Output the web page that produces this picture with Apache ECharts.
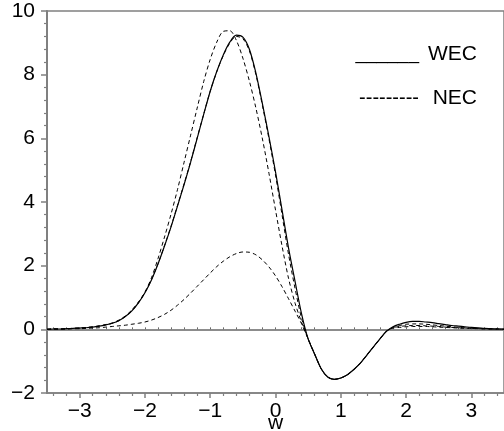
<!DOCTYPE html>
<html>
<head>
<meta charset="utf-8">
<script src="https://cdn.jsdelivr.net/npm/echarts@6/dist/echarts.min.js"></script>
<style>html,body{margin:0;padding:0;background:#fff;}#c{width:504px;height:431px;}</style>
</head>
<body>
<div id="c"></div>
<script>
const xs = [-3.5,-3.4,-3.3,-3.2,-3.1,-3.0,-2.9,-2.8,-2.7,-2.6,-2.5,-2.4,-2.3,-2.2,-2.1,-2.0,-1.9,-1.8,-1.7,-1.6,-1.5,-1.4,-1.3,-1.2,-1.1,-1.0,-0.9,-0.8,-0.7,-0.6,-0.5,-0.4,-0.3,-0.2,-0.1,0.0,0.1,0.2,0.3,0.4,0.5,0.6,0.7,0.8,0.9,1.0,1.1,1.2,1.3,1.4,1.5,1.6,1.7,1.8,1.9,2.0,2.1,2.2,2.3,2.4,2.5,2.6,2.7,2.8,2.9,3.0,3.1,3.2,3.3,3.4,3.5];

const wec = [0.00,0.01,0.01,0.02,0.03,0.04,0.05,0.07,0.10,0.14,0.19,0.27,0.40,0.58,0.83,1.15,1.55,2.05,2.62,3.22,3.88,4.55,5.25,6.00,6.75,7.48,8.10,8.62,9.02,9.24,9.18,8.80,8.05,7.08,6.05,4.95,3.75,2.55,1.50,0.48,-0.30,-0.78,-1.24,-1.50,-1.57,-1.53,-1.43,-1.26,-1.06,-0.81,-0.55,-0.30,-0.06,0.08,0.16,0.22,0.25,0.25,0.23,0.21,0.18,0.15,0.12,0.10,0.08,0.06,0.05,0.03,0.02,0.01,0.01];

const necA = [0.00,0.01,0.01,0.02,0.03,0.04,0.06,0.08,0.11,0.15,0.20,0.29,0.42,0.61,0.86,1.17,1.62,2.22,2.90,3.62,4.40,5.25,6.10,6.95,7.78,8.48,9.02,9.36,9.38,9.08,8.52,7.80,6.95,5.98,4.90,3.75,2.62,1.60,0.82,0.22,-0.30,-0.78,-1.24,-1.50,-1.57,-1.53,-1.43,-1.26,-1.06,-0.81,-0.55,-0.30,-0.06,0.06,0.12,0.16,0.17,0.17,0.16,0.14,0.12,0.10,0.08,0.06,0.05,0.04,0.03,0.02,0.01,0.01,0.00];

const necB = [0.00,0.01,0.01,0.02,0.03,0.04,0.05,0.07,0.10,0.14,0.19,0.27,0.40,0.58,0.83,1.15,1.56,2.06,2.63,3.24,3.90,4.57,5.27,6.02,6.76,7.48,8.09,8.60,8.99,9.20,9.13,8.75,8.00,7.03,5.98,4.85,3.60,2.35,1.28,0.34,-0.30,-0.78,-1.24,-1.50,-1.57,-1.53,-1.43,-1.26,-1.06,-0.81,-0.55,-0.30,-0.06,0.05,0.09,0.11,0.12,0.12,0.11,0.10,0.09,0.07,0.06,0.05,0.04,0.03,0.02,0.02,0.01,0.01,0.00];

const necC = [0.00,0.01,0.01,0.01,0.02,0.02,0.03,0.04,0.05,0.07,0.09,0.11,0.13,0.16,0.19,0.23,0.29,0.37,0.47,0.60,0.76,0.94,1.14,1.35,1.56,1.77,1.97,2.14,2.28,2.38,2.43,2.42,2.34,2.18,1.96,1.68,1.34,0.96,0.57,0.17,-0.30,-0.78,-1.24,-1.50,-1.57,-1.53,-1.43,-1.26,-1.06,-0.81,-0.55,-0.30,-0.06,0.04,0.06,0.08,0.09,0.09,0.09,0.08,0.07,0.06,0.05,0.04,0.03,0.03,0.02,0.01,0.01,0.01,0.00];

const xMajorTicks = [-3,-2,-1,0,1,2,3];
const xMinorTicks = [-3.4,-3.2,-2.8,-2.6,-2.4,-2.2,-1.8,-1.6,-1.4,-1.2,-0.8,-0.6,-0.4,-0.2,0.2,0.4,0.6,0.8,1.2,1.4,1.6,1.8,2.2,2.4,2.6,2.8,3.2,3.4];
const legendNames = ['WEC', 'NEC'];
const legendStrokes = ['______', '---------'];

const pairs = arr => xs.map((x, i) => [x, arr[i]]);
const minus = v => String(v).replace('-', '\u2212');
const FONT = '"Liberation Sans", Arial, sans-serif';
const GREY = '#808080';

const chart = echarts.init(document.getElementById('c'), null, {renderer: 'canvas'});
const baseX = {type: 'value', min: -3.5, max: 3.5, position: 'bottom', splitLine: {show: false}};
chart.setOption({
  animation: false,
  backgroundColor: '#fff',
  grid: {left: 47, right: 0, top: 11, bottom: 38, containLabel: false, outerBoundsMode: 'none', show: true, borderColor: GREY, borderWidth: 1.5, backgroundColor: 'transparent'},
  xAxis: [
    Object.assign({}, baseX, {
      axisLine: {onZero: false, lineStyle: {color: GREY, width: 1.5}},
      axisTick: {customValues: xMajorTicks, length: 5, lineStyle: {color: GREY, width: 1.5}},
      axisLabel: {customValues: xMajorTicks, formatter: minus, color: '#000', fontSize: 21, fontFamily: FONT, margin: 8},
      name: 'w', nameLocation: 'middle', nameGap: 20, nameMoveOverlap: false,
      nameTextStyle: {color: '#000', fontSize: 21, fontFamily: FONT}
    }),
    Object.assign({}, baseX, {
      axisLine: {show: false, onZero: false},
      axisTick: {customValues: xMinorTicks, length: 3, lineStyle: {color: GREY, width: 1.2}},
      axisLabel: {show: false}
    }),
    Object.assign({}, baseX, {
      axisLine: {onZero: true, lineStyle: {color: '#8c8c8c', width: 2}},
      axisTick: {customValues: xMajorTicks.concat(xMinorTicks), length: 2, inside: true, lineStyle: {color: '#6a6a6a', width: 1}},
      axisLabel: {show: false}
    })
  ],
  yAxis: {
    type: 'value', min: -2, max: 10, interval: 2,
    axisLine: {onZero: false, lineStyle: {color: GREY, width: 2}},
    axisTick: {length: 6, lineStyle: {color: GREY, width: 1.5}},
    minorTick: {show: true, splitNumber: 5, length: 3, lineStyle: {color: GREY, width: 1.2}},
    axisLabel: {formatter: minus, color: '#000', fontSize: 21, fontFamily: FONT, margin: 12},
    splitLine: {show: false}
  },
  graphic: [
    {type: 'text', x: 419, y: 54, style: {text: legendStrokes[0], fill: '#000', font: '19px ' + FONT, textAlign: 'right', textVerticalAlign: 'middle'}},
    {type: 'text', x: 477, y: 54, style: {text: legendNames[0], fill: '#000', font: '21px ' + FONT, textAlign: 'right', textVerticalAlign: 'middle'}},
    {type: 'text', x: 419, y: 98, style: {text: legendStrokes[1], fill: '#000', font: '20px ' + FONT, textAlign: 'right', textVerticalAlign: 'middle'}},
    {type: 'text', x: 477, y: 98, style: {text: legendNames[1], fill: '#000', font: '21px ' + FONT, textAlign: 'right', textVerticalAlign: 'middle'}}
  ],
  series: [
    {name: 'NEC', type: 'line', data: pairs(necC), showSymbol: false, smooth: 0.3, lineStyle: {color: '#000', width: 1, type: [4, 3]}},
    {name: 'NEC', type: 'line', data: pairs(necB), showSymbol: false, smooth: 0.3, lineStyle: {color: '#000', width: 1, type: [4, 3]}},
    {name: 'NEC', type: 'line', data: pairs(necA), showSymbol: false, smooth: 0.3, lineStyle: {color: '#000', width: 1, type: [4, 3]}},
    {name: 'WEC', type: 'line', data: pairs(wec), showSymbol: false, smooth: 0.3, lineStyle: {color: '#000', width: 1.2}}
  ]
});
</script>
</body>
</html>
